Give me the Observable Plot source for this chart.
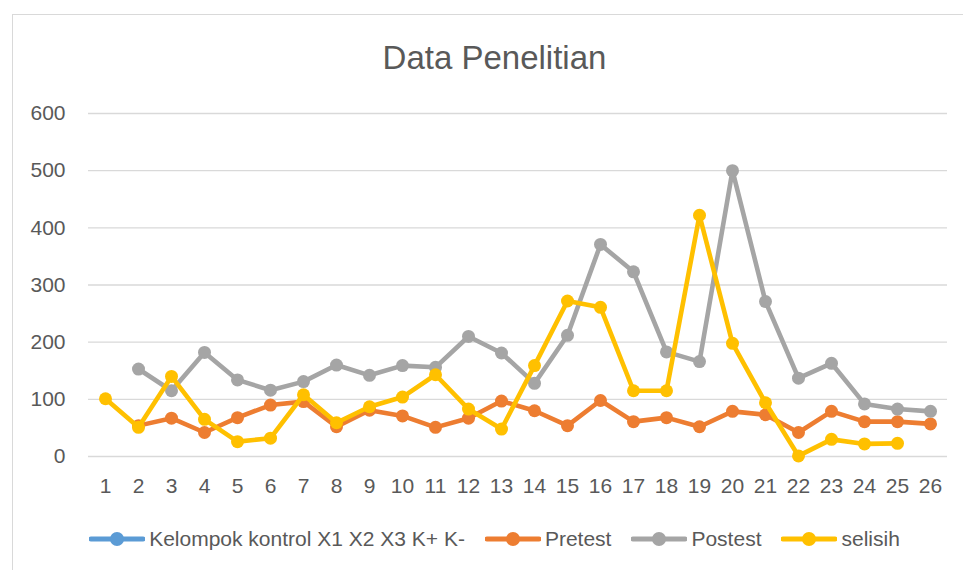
<!DOCTYPE html>
<html>
<head>
<meta charset="utf-8">
<script src="https://cdn.jsdelivr.net/npm/d3@7"></script>
<script src="https://cdn.jsdelivr.net/npm/@observablehq/plot@0.6"></script>
<style>
  html, body { margin: 0; padding: 0; background: #fff; }
  body { width: 963px; height: 570px; overflow: hidden; position: relative; font-family: "Liberation Sans", Arial, sans-serif; }
  #frame { position: absolute; left: 12px; top: 14px; width: 1000px; height: 600px; border: 1.3px solid #d9d9d9; box-sizing: border-box; }
  #title { position: absolute; left: 0; top: 38px; width: 989px; text-align: center; font-size: 33px; color: #595959; line-height: 40px; }
  #chart { position: absolute; left: 0; top: 0; }
  #legend { position: absolute; left: 0; top: 527px; width: 989px; display: flex; justify-content: center; align-items: center; gap: 20px; font-size: 21px; color: #595959; }
  .item { display: flex; align-items: center; gap: 4px; }
  .item svg { display: block; }
</style>
</head>
<body>
<div id="frame"></div>
<div id="title">Data Penelitian</div>
<div id="chart"></div>
<div id="legend"></div>
<script>
const categories = ["1","2","3","4","5","6","7","8","9","10","11","12","13","14","15","16","17","18","19","20","21","22","23","24","25","26"];
const seriesNames = ["Kelompok kontrol X1 X2 X3 K+ K-", "Pretest", "Postest", "selisih"];
const seriesColors = ["#5B9BD5", "#ED7D31", "#A5A5A5", "#FFC000"];
const yTicks = [0, 100, 200, 300, 400, 500, 600];

const kontrol = [null,null,null,null,null,null,null,null,null,null,null,null,null,null,null,null,null,null,null,null,null,null,null,null,null,null];
const pretest = [null,54,67,42,68,90,96,52,81,71,51,67,97,80,54,98,61,68,52,79,73,42,79,61,61,57];
const postest = [null,153,115,182,134,116,131,160,142,159,156,210,181,128,212,371,323,183,166,500,271,137,163,92,83,79];
const selisih = [101,51,140,65,26,32,108,59,87,104,143,83,48,159,272,261,115,115,422,198,94,1,30,22,23,null];

const allSeries = [kontrol, pretest, postest, selisih];
const rows = [];
allSeries.forEach((vals, s) => {
  vals.forEach((v, i) => {
    if (v !== null) rows.push({cat: categories[i], value: v, series: seriesNames[s]});
  });
});

const marks = [
  Plot.gridY(yTicks, {stroke: "#d9d9d9", strokeOpacity: 1, strokeWidth: 1.3}),
  Plot.axisY(yTicks, {tickSize: 0, tickPadding: 23, fontSize: 21, fill: "#595959", label: null}),
  Plot.axisX({tickSize: 0, tickPadding: 22, fontSize: 21, fill: "#595959", label: null})
];
seriesNames.forEach((name, s) => {
  const d = rows.filter(r => r.series === name);
  marks.push(Plot.line(d, {x: "cat", y: "value", stroke: seriesColors[s], strokeWidth: 4.6, strokeLinejoin: "round"}));
  marks.push(Plot.dot(d, {x: "cat", y: "value", fill: seriesColors[s], r: 6.5, stroke: "none"}));
});

const chart = Plot.plot({
  width: 963,
  height: 510,
  marginTop: 113,
  marginBottom: 54,
  marginLeft: 88,
  marginRight: 16,
  style: {fontFamily: "Liberation Sans, Arial, sans-serif", fontSize: "21px", color: "#595959", background: "transparent"},
  x: {type: "point", domain: categories, padding: 0.5},
  y: {domain: [0, 600]},
  marks
});
document.getElementById("chart").appendChild(chart);

const legend = document.getElementById("legend");
seriesNames.forEach((name, s) => {
  const item = document.createElement("div");
  item.className = "item";
  item.innerHTML = `<svg width="56" height="16"><line x1="2" y1="8" x2="54" y2="8" stroke="${seriesColors[s]}" stroke-width="5" stroke-linecap="round"/><circle cx="28" cy="8" r="7" fill="${seriesColors[s]}"/></svg><span>${name}</span>`;
  legend.appendChild(item);
});
</script>
</body>
</html>
